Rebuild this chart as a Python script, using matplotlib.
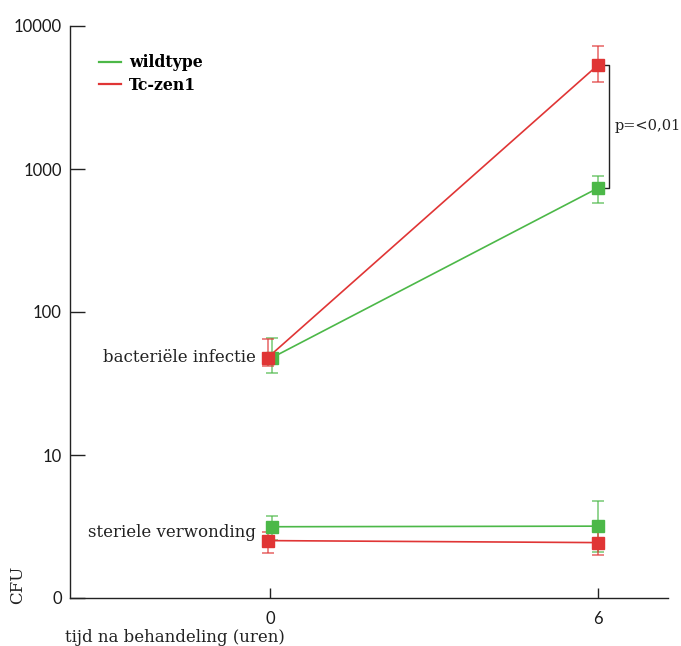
import matplotlib
matplotlib.use("Agg")
import matplotlib.pyplot as plt
import numpy as np

# Data
times = [0, 6]
series_names = ["wildtype", "Tc-zen1"]
colors = {"wildtype": "#4cb848", "Tc-zen1": "#e03535"}
x_offset = {"wildtype": 0.04, "Tc-zen1": -0.04}

infect_mean = {"wildtype": [48, 736], "Tc-zen1": [48, 5340]}
infect_hi = {"wildtype": [66, 893], "Tc-zen1": [65, 7250]}
infect_lo = {"wildtype": [37.6, 578], "Tc-zen1": [42, 4060]}

steril_mean = {"wildtype": [3.15, 3.18], "Tc-zen1": [2.52, 2.44]}
steril_hi = {"wildtype": [3.75, 4.8], "Tc-zen1": [2.91, 3.09]}
steril_lo = {"wildtype": [2.55, 2.1], "Tc-zen1": [2.07, 2.0]}

ytick_vals = [1, 10, 100, 1000, 10000]
ytick_labels = ["0", "10", "100", "1000", "10000"]
xtick_vals = [0, 6]
xtick_labels = ["0", "6"]

serif = "DejaVu Serif"
sans = "Lato"

fig = plt.figure(figsize=(6.81, 6.46), dpi=100)
ax = fig.add_axes([70/681, 1-598/646, (668-70)/681, (598-26)/646])
ax.set_yscale("log")
ax.set_ylim(1, 10000)
ax.set_xlim(-3.658, 7.28)

for name in series_names:
    c = colors[name]
    xs = np.array(times) + np.array([x_offset[name], 0.0])
    for mean, hi, lo in [(infect_mean, infect_hi, infect_lo), (steril_mean, steril_hi, steril_lo)]:
        m = np.array(mean[name]); h = np.array(hi[name]); l = np.array(lo[name])
        ax.errorbar(xs, m, yerr=[m - l, h - m], fmt="none", ecolor=c, alpha=0.65,
                    elinewidth=1.3, capsize=4, capthick=1.3, zorder=2)
        ax.plot(xs, m, color=c, lw=1.2, zorder=3)
        ax.plot(xs, m, ls="none", marker="s", ms=8.5, color=c, zorder=4)

for s in ["top", "right"]:
    ax.spines[s].set_visible(False)
for s in ["left", "bottom"]:
    ax.spines[s].set_color("#222222")
    ax.spines[s].set_linewidth(1.0)

ax.set_yticks(ytick_vals)
ax.set_yticklabels(ytick_labels)
ax.yaxis.set_minor_locator(matplotlib.ticker.NullLocator())
ax.tick_params(axis="y", direction="in", length=11, width=1, color="#222222", pad=6,
               labelsize=12, labelcolor="#1a1a1a")
ax.set_xticks(xtick_vals)
ax.set_xticklabels(xtick_labels)
ax.tick_params(axis="x", direction="in", length=7.5, width=1, color="#222222", pad=9,
               labelsize=12, labelcolor="#1a1a1a")
for lab in ax.get_xticklabels() + ax.get_yticklabels():
    lab.set_family(sans)

# Legend
handles = [plt.Line2D([], [], color=colors[n], lw=1.6) for n in series_names]
leg = ax.legend(handles, series_names, loc="upper left", bbox_to_anchor=(0.025, 0.975),
                frameon=False, handlelength=1.4, handletextpad=0.5, labelspacing=0.35,
                prop={"family": serif, "weight": "bold", "size": 11.3})

# Group labels
ax.text(-0.25, 48, "bacteriële infectie", ha="right", va="center", family=serif,
        fontsize=12, color="#222222")
ax.text(-0.25, 2.85, "steriele verwonding", ha="right", va="center", family=serif,
        fontsize=12, color="#222222")

# Significance bracket
bx = 6.2
ax.plot([bx - 0.07, bx, bx, bx - 0.07], [5340, 5340, 736, 736], color="#222222", lw=1.0,
        clip_on=False)
ax.text(bx + 0.1, np.sqrt(5340 * 736), "p=<0,01", ha="left", va="center", family=serif,
        fontsize=10.5, color="#222222")

# Axis labels
fig.text(18/681, 1-585/646, "CFU", rotation=90, ha="center", va="center", family=serif,
         fontsize=12, color="#222222")
fig.text(65/681, 1-638/646, "tijd na behandeling (uren)", ha="left", va="center",
         family=serif, fontsize=12, color="#222222")

fig.savefig("out.png", dpi=100)
